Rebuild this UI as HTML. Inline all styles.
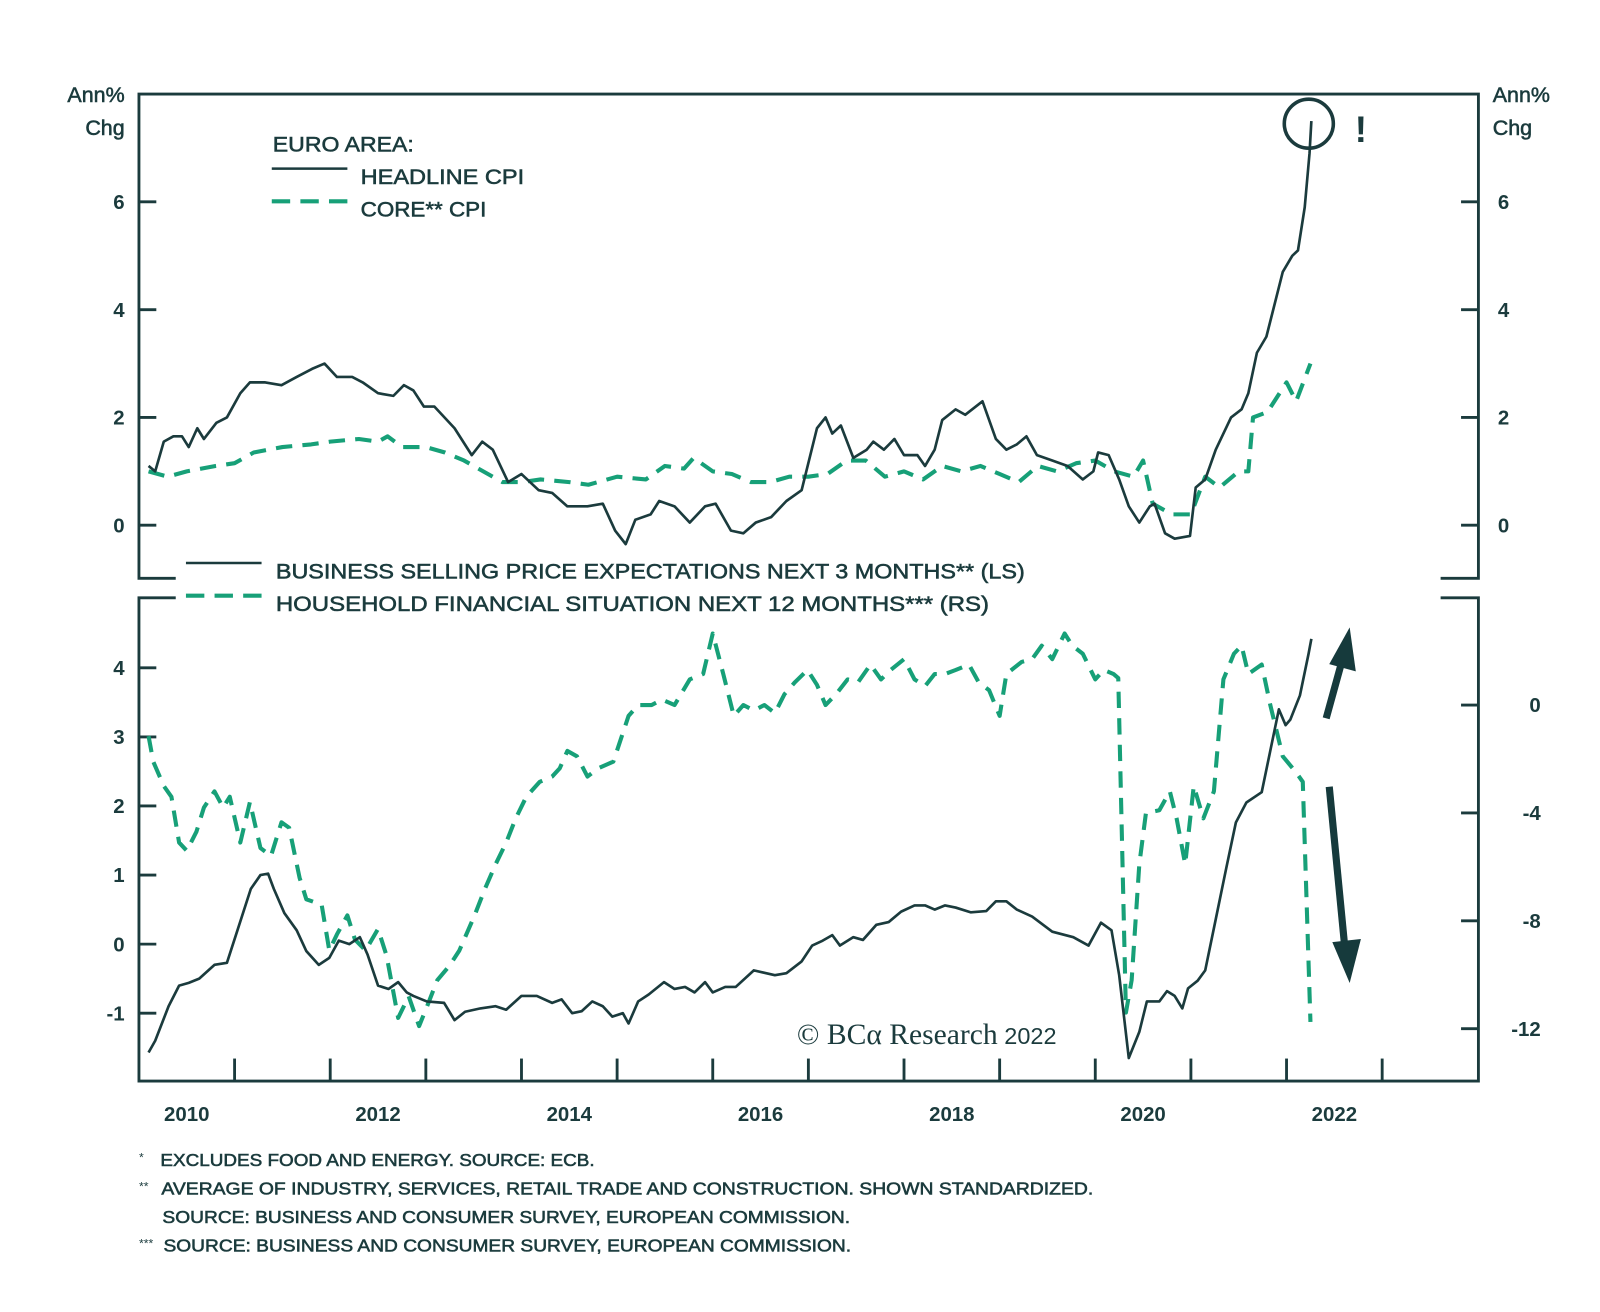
<!DOCTYPE html>
<html><head><meta charset="utf-8"><style>
html,body{margin:0;padding:0;background:#fff;}
svg{display:block;}
text{font-family:"Liberation Sans",sans-serif;fill:#1b3b3d;}
.b{font-weight:bold;}
.m{stroke:#1b3b3d;stroke-width:0.55;}
</style></head><body>
<svg id="chart" width="1600" height="1312" viewBox="0 0 1566 1284" xmlns="http://www.w3.org/2000/svg">
<g id="frame" stroke="#1b3b3d" stroke-width="2.8" fill="none">
  <path d="M172,566 H136 V92 H1447 V566 H1410"/>
  <path d="M172,585 H136 V1058 H1447 V585 H1410"/>
</g>
<g id="ticks" stroke="#1b3b3d" stroke-width="2.8"></g>
<g id="labels"></g>
<text class="m" x="122" y="100" font-size="21" text-anchor="end">Ann%</text>
<text class="m" x="122" y="132" font-size="21" text-anchor="end">Chg</text>
<text class="m" x="1461" y="100" font-size="21">Ann%</text>
<text class="m" x="1461" y="132" font-size="21">Chg</text>
<g id="series" fill="none" stroke-linejoin="round"></g>
<g>
  <text class="m" x="267" y="148" font-size="21" textLength="138" lengthAdjust="spacingAndGlyphs">EURO AREA:</text>
  <line x1="266" y1="165" x2="340" y2="165" stroke="#1b3b3d" stroke-width="2.5"/>
  <text class="m" x="353" y="180" font-size="21" textLength="160" lengthAdjust="spacingAndGlyphs">HEADLINE CPI</text>
  <line x1="266" y1="197" x2="340" y2="197" stroke="#17a078" stroke-width="4" stroke-dasharray="18,10"/>
  <text class="m" x="353" y="212" font-size="21" textLength="123" lengthAdjust="spacingAndGlyphs">CORE** CPI</text>
</g>
<g>
  <line x1="182" y1="551" x2="256" y2="551" stroke="#1b3b3d" stroke-width="2.5"/>
  <text class="m" x="270" y="566" font-size="21" textLength="733" lengthAdjust="spacingAndGlyphs">BUSINESS SELLING PRICE EXPECTATIONS NEXT 3 MONTHS** (LS)</text>
  <line x1="182" y1="583" x2="256" y2="583" stroke="#17a078" stroke-width="4" stroke-dasharray="18,10"/>
  <text class="m" x="270" y="598" font-size="21" textLength="698" lengthAdjust="spacingAndGlyphs">HOUSEHOLD  FINANCIAL SITUATION NEXT 12 MONTHS*** (RS)</text>
</g>
<circle cx="1281" cy="121" r="24" fill="none" stroke="#1b3b3d" stroke-width="3.5"/>
<text class="b" x="1326" y="139" font-size="36">!</text>
<g fill="#163a3c" stroke="#163a3c">
  <line x1="1298" y1="703" x2="1314" y2="645" stroke-width="7"/>
  <polygon points="1321,614 1327,657 1301,650" stroke="none"/>
  <line x1="1301" y1="770" x2="1316" y2="925" stroke-width="7"/>
  <polygon points="1321,962 1304,922 1332,919" stroke="none"/>
</g>
<text x="780" y="1022" font-size="29" style="font-family:'Liberation Serif',serif"><tspan>© BCα Research</tspan><tspan font-size="23" style="font-family:'Liberation Sans',sans-serif"> 2022</tspan></text>
<g font-size="17">
  <text x="136" y="1137" font-size="12">*</text>
  <text class="m" x="157" y="1141" textLength="425" lengthAdjust="spacingAndGlyphs">EXCLUDES FOOD AND ENERGY. SOURCE: ECB.</text>
  <text x="136" y="1165" font-size="12">**</text>
  <text class="m" x="158" y="1169" textLength="912" lengthAdjust="spacingAndGlyphs">AVERAGE OF INDUSTRY, SERVICES, RETAIL TRADE AND CONSTRUCTION. SHOWN STANDARDIZED.</text>
  <text class="m" x="159" y="1197" textLength="673" lengthAdjust="spacingAndGlyphs">SOURCE: BUSINESS AND CONSUMER SURVEY, EUROPEAN COMMISSION.</text>
  <text x="136" y="1221" font-size="12">***</text>
  <text class="m" x="160" y="1225" textLength="673" lengthAdjust="spacingAndGlyphs">SOURCE: BUSINESS AND CONSUMER SURVEY, EUROPEAN COMMISSION.</text>
</g>
</svg>
<script>
const headlineDates=[2010.10,2010.17,2010.26,2010.36,2010.45,2010.52,2010.61,2010.68,2010.81,2010.92,2011.06,2011.16,2011.32,2011.49,2011.65,2011.81,2011.94,2012.07,2012.23,2012.34,2012.50,2012.66,2012.77,2012.87,2012.98,2013.09,2013.30,2013.48,2013.59,2013.70,2013.86,2014.00,2014.18,2014.32,2014.48,2014.69,2014.85,2014.98,2015.09,2015.19,2015.35,2015.44,2015.60,2015.76,2015.92,2016.03,2016.19,2016.32,2016.45,2016.61,2016.77,2016.93,2017.09,2017.18,2017.25,2017.34,2017.47,2017.61,2017.68,2017.79,2017.90,2018.00,2018.14,2018.22,2018.32,2018.40,2018.54,2018.64,2018.82,2018.96,2019.07,2019.18,2019.28,2019.39,2019.55,2019.71,2019.87,2019.98,2020.03,2020.14,2020.25,2020.35,2020.46,2020.57,2020.62,2020.73,2020.83,2020.99,2021.05,2021.15,2021.26,2021.42,2021.53,2021.60,2021.69,2021.79,2021.96,2022.06,2022.12,2022.19,2022.24,2022.26];
const headlineValues=[1.1,1.0,1.55,1.65,1.65,1.45,1.8,1.6,1.9,2.0,2.45,2.65,2.65,2.6,2.75,2.9,3.0,2.75,2.75,2.65,2.45,2.4,2.6,2.5,2.2,2.2,1.8,1.3,1.55,1.4,0.8,0.95,0.65,0.6,0.35,0.35,0.4,-0.1,-0.35,0.1,0.2,0.45,0.35,0.05,0.35,0.4,-0.1,-0.15,0.05,0.15,0.45,0.65,1.8,2.0,1.7,1.85,1.25,1.4,1.55,1.4,1.6,1.3,1.3,1.1,1.4,1.95,2.15,2.05,2.3,1.6,1.4,1.5,1.65,1.3,1.2,1.1,0.85,1.0,1.35,1.3,0.85,0.35,0.05,0.35,0.4,-0.15,-0.25,-0.2,0.7,0.85,1.4,2.0,2.15,2.45,3.2,3.5,4.7,5.0,5.1,5.9,6.9,7.5];
const coreDates=[2010.1,2010.3,2010.5,2010.8,2011.0,2011.2,2011.5,2011.8,2012.0,2012.3,2012.5,2012.6,2012.75,2013.0,2013.2,2013.4,2013.6,2013.8,2014.0,2014.2,2014.5,2014.7,2015.0,2015.3,2015.5,2015.7,2015.8,2016.0,2016.2,2016.4,2016.6,2016.8,2017.0,2017.2,2017.4,2017.6,2017.8,2018.0,2018.2,2018.4,2018.6,2018.8,2019.0,2019.2,2019.4,2019.6,2019.8,2020.0,2020.2,2020.4,2020.5,2020.6,2020.8,2021.0,2021.15,2021.3,2021.5,2021.6,2021.65,2021.8,2022.0,2022.1,2022.25];
const coreValues=[1.0,0.9,1.0,1.1,1.15,1.35,1.45,1.5,1.55,1.6,1.55,1.65,1.45,1.45,1.35,1.2,1.0,0.8,0.8,0.85,0.8,0.75,0.9,0.85,1.1,1.05,1.25,1.0,0.95,0.8,0.8,0.9,0.9,0.95,1.2,1.2,0.9,1.0,0.85,1.1,1.0,1.1,0.95,0.8,1.1,1.0,1.15,1.2,1.0,0.9,1.2,0.4,0.2,0.2,0.9,0.7,1.0,1.0,2.0,2.1,2.65,2.3,3.0];
const businessDates=[2010.10,2010.17,2010.31,2010.42,2010.52,2010.63,2010.79,2010.92,2011.03,2011.17,2011.27,2011.35,2011.41,2011.52,2011.65,2011.75,2011.88,2011.99,2012.09,2012.20,2012.31,2012.39,2012.50,2012.61,2012.71,2012.80,2012.87,2013.01,2013.19,2013.30,2013.41,2013.57,2013.73,2013.84,2014.00,2014.16,2014.32,2014.42,2014.53,2014.63,2014.74,2014.85,2014.95,2015.06,2015.12,2015.22,2015.33,2015.49,2015.60,2015.71,2015.81,2015.92,2016.00,2016.13,2016.24,2016.43,2016.65,2016.77,2016.93,2017.04,2017.15,2017.25,2017.33,2017.47,2017.57,2017.71,2017.84,2017.97,2018.11,2018.22,2018.32,2018.43,2018.54,2018.70,2018.86,2018.96,2019.07,2019.18,2019.34,2019.55,2019.77,2019.93,2020.06,2020.17,2020.25,2020.35,2020.46,2020.54,2020.67,2020.75,2020.83,2020.91,2020.97,2021.07,2021.15,2021.26,2021.37,2021.47,2021.58,2021.74,2021.83,2021.92,2021.99,2022.04,2022.14,2022.23,2022.26];
const businessValues=[-1.57,-1.4,-0.9,-0.6,-0.56,-0.5,-0.3,-0.27,0.2,0.8,1.0,1.02,0.8,0.45,0.2,-0.1,-0.3,-0.2,0.05,0.0,0.1,-0.15,-0.6,-0.65,-0.55,-0.7,-0.75,-0.83,-0.85,-1.1,-0.98,-0.93,-0.9,-0.95,-0.75,-0.75,-0.85,-0.8,-1.0,-0.97,-0.83,-0.9,-1.05,-1.0,-1.15,-0.83,-0.73,-0.55,-0.65,-0.62,-0.7,-0.55,-0.7,-0.62,-0.62,-0.38,-0.45,-0.42,-0.25,-0.02,0.05,0.13,-0.02,0.1,0.06,0.28,0.32,0.47,0.56,0.56,0.5,0.56,0.53,0.46,0.48,0.62,0.62,0.5,0.4,0.18,0.1,-0.02,0.31,0.2,-0.45,-1.65,-1.27,-0.83,-0.83,-0.68,-0.75,-0.93,-0.64,-0.53,-0.38,0.36,1.1,1.76,2.05,2.2,2.8,3.4,3.17,3.25,3.6,4.2,4.42];
const householdDates=[2010.10,2010.15,2010.26,2010.34,2010.42,2010.50,2010.60,2010.68,2010.79,2010.88,2010.95,2011.06,2011.16,2011.27,2011.38,2011.49,2011.57,2011.68,2011.75,2011.91,2011.99,2012.07,2012.18,2012.26,2012.37,2012.50,2012.59,2012.71,2012.82,2012.93,2013.01,2013.12,2013.25,2013.35,2013.51,2013.62,2013.73,2013.84,2013.94,2014.05,2014.19,2014.32,2014.40,2014.48,2014.58,2014.69,2014.80,2014.96,2015.12,2015.22,2015.36,2015.47,2015.60,2015.76,2015.90,2016.00,2016.11,2016.22,2016.32,2016.43,2016.54,2016.65,2016.75,2016.86,2016.99,2017.09,2017.18,2017.29,2017.41,2017.52,2017.65,2017.76,2017.86,2018.00,2018.11,2018.22,2018.32,2018.43,2018.54,2018.68,2018.78,2018.89,2019.00,2019.07,2019.23,2019.34,2019.44,2019.55,2019.68,2019.76,2019.87,2020.00,2020.09,2020.19,2020.24,2020.32,2020.38,2020.46,2020.53,2020.67,2020.78,2020.85,2020.94,2021.03,2021.13,2021.24,2021.34,2021.45,2021.53,2021.60,2021.74,2021.83,2021.96,2022.09,2022.17,2022.25];
const householdValues=[-1.15,-2.1,-3.0,-3.4,-5.1,-5.4,-4.7,-3.8,-3.2,-3.8,-3.4,-5.1,-3.6,-5.3,-5.6,-4.35,-4.55,-6.4,-7.2,-7.4,-9.1,-8.5,-7.8,-8.7,-9.1,-8.3,-9.3,-11.6,-10.8,-11.9,-11.2,-10.2,-9.65,-9.1,-7.8,-6.8,-5.9,-5.1,-4.2,-3.4,-2.85,-2.65,-2.35,-1.7,-1.9,-2.65,-2.35,-2.1,-0.4,0.0,0.0,0.2,0.0,0.95,1.15,2.65,1.15,-0.4,0.0,-0.2,0.0,-0.3,0.4,0.85,1.3,0.75,0.0,0.4,0.95,0.85,1.5,0.95,1.3,1.7,0.95,0.7,1.15,1.15,1.3,1.5,0.85,0.55,-0.4,1.15,1.6,1.7,2.2,1.7,2.65,2.2,1.9,0.95,1.3,1.15,1.0,-11.4,-10.2,-5.9,-4.0,-3.9,-3.2,-4.2,-5.9,-3.0,-4.2,-3.2,0.95,1.9,2.2,1.15,1.5,0.0,-1.9,-2.45,-2.85,-11.75];
const topTicks=[0,2,4,6];
const bottomLeftTicks=[-1,0,1,2,3,4];
const bottomRightTicks=[-12,-8,-4,0];
const yearTicks=[2011,2012,2013,2014,2015,2016,2017,2018,2019,2020,2021,2022,2023];
const yearLabels=[2010,2012,2014,2016,2018,2020,2022];

const NS='http://www.w3.org/2000/svg';
function xScale(t){return 136+(t-2010)*93.6;}
function yTop(v){return 514-v*52.75;}
function yBotL(v){return 924-v*67.6;}
function yBotR(v){return 690-v*26.4;}
function mk(tag,attrs,parent){const e=document.createElementNS(NS,tag);for(const k in attrs)e.setAttribute(k,attrs[k]);parent.appendChild(e);return e;}
const ticks=document.getElementById('ticks'),labels=document.getElementById('labels'),series=document.getElementById('series');
topTicks.forEach(v=>{
  const y=yTop(v);
  let a=mk('line',{x1:136,y1:y,x2:153,y2:y},ticks);
  
  
  let b=mk('line',{x1:1430,y1:y,x2:1447,y2:y},ticks);
  
  
  let t1=mk('text',{x:122,y:y+7,'font-size':20,'text-anchor':'end','class':'b'},labels);t1.textContent=v;
  
  
  let t2=mk('text',{x:1466,y:y+7,'font-size':20,'class':'b'},labels);t2.textContent=v;
  
  
});
bottomLeftTicks.forEach(v=>{
  const y=yBotL(v);
  let a=mk('line',{x1:136,y1:y,x2:153,y2:y},ticks);
  
  
  let t=mk('text',{x:122,y:y+7,'font-size':20,'text-anchor':'end','class':'b'},labels);t.textContent=v;
  
  
});
bottomRightTicks.forEach(v=>{
  const y=yBotR(v);
  let a=mk('line',{x1:1430,y1:y,x2:1447,y2:y},ticks);
  
  
  let t=mk('text',{x:1508,y:y+7,'font-size':20,'text-anchor':'end','class':'b'},labels);t.textContent=v;
  
  
});
yearTicks.forEach(yr=>{
  const x=xScale(yr);
  let a=mk('line',{x1:x,y1:1058,x2:x,y2:1036},ticks);
  
  
});
yearLabels.forEach(yr=>{
  let t=mk('text',{x:xScale(yr+0.5),y:1097,'font-size':20,'text-anchor':'middle','class':'b'},labels);t.textContent=yr;
  
  
});
function pathD(ds,vs,ys){return ds.map((d,i)=>(i?'L':'M')+xScale(d).toFixed(1)+','+ys(vs[i]).toFixed(1)).join(' ');}
let p1=mk('path',{d:pathD(coreDates,coreValues,yTop),stroke:'#17a078','stroke-width':4,'stroke-dasharray':'16,10'},series);


let p2=mk('path',{d:pathD(headlineDates,headlineValues,yTop),stroke:'#1b3b3d','stroke-width':2.6},series);


let p3=mk('path',{d:pathD(householdDates,householdValues,yBotR),stroke:'#17a078','stroke-width':4,'stroke-dasharray':'16,10'},series);


let p4=mk('path',{d:pathD(businessDates,businessValues,yBotL),stroke:'#1b3b3d','stroke-width':2.6},series);


</script>
</body></html>
